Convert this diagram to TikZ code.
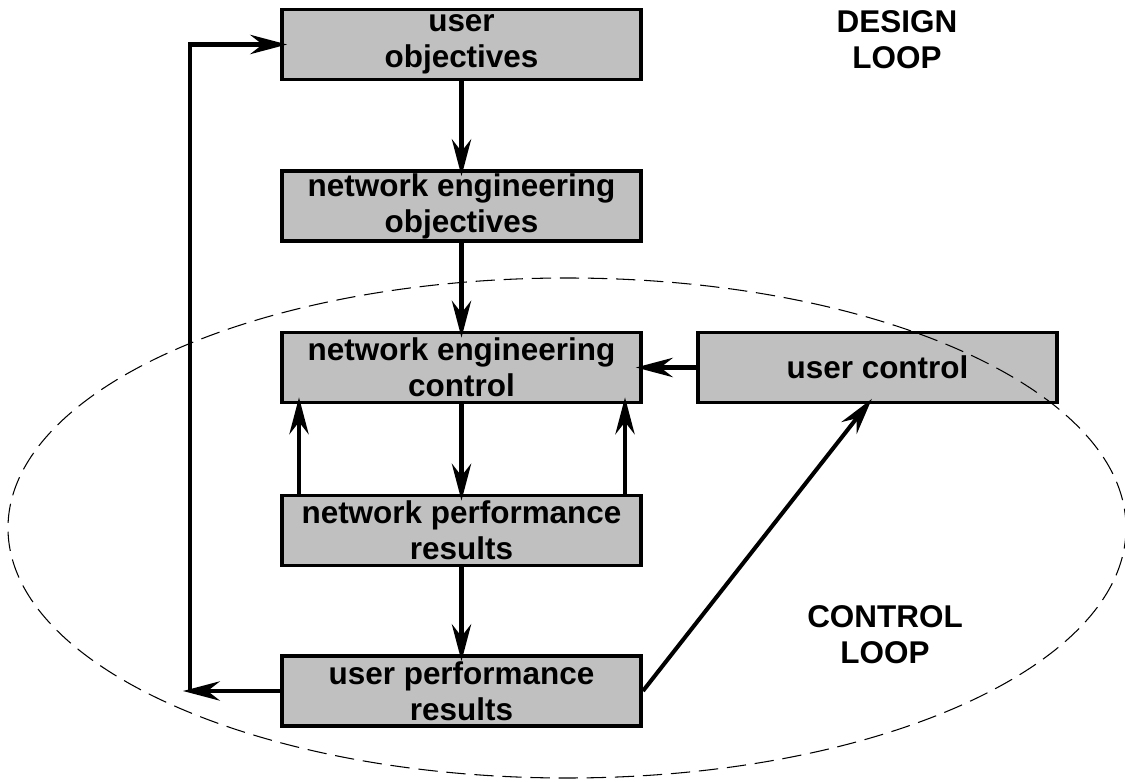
\documentclass[tikz,border=0pt]{standalone}
\usepackage{fontspec}
\setmainfont{Liberation Sans}
\usetikzlibrary{arrows.meta}
\definecolor{boxgray}{HTML}{C0C0C0}
\begin{document}
\begin{tikzpicture}[bx/.style={draw=black,fill=boxgray,line width=2.2pt,minimum width=7.18cm,minimum height=1.40cm,inner sep=0pt,align=center,font=\bfseries\fontsize{17.9}{20.5}\selectfont},
ar/.style={line width=2.3pt,-{Stealth[length=21pt,width=11pt,inset=7pt]},shorten >=-4pt},
lbl/.style={align=center,font=\bfseries\fontsize{17.9}{20.5}\selectfont}]
\useasboundingbox (0,0) rectangle (22.5,15.62);
\node[bx] (A) at (9.23,14.73) {user\\objectives};
\node[bx] (B) at (9.23,11.50) {network engineering\\objectives};
\node[bx] (C) at (9.23,8.27) {network engineering\\control};
\node[bx] (D) at (9.23,5.01) {network performance\\results};
\node[bx] (E) at (9.23,1.80) {user performance\\results};
\node[bx] (F) at (17.55,8.27) {user control};
\coordinate (R) at (3.8,1.80);
\draw[ar] (A) -- (B);
\draw[ar] (B) -- (C);
\draw[ar] (C) -- (D);
\draw[ar] (D) -- (E);
\draw[ar] ([xshift=-3.25cm]D.north) -- ([xshift=-3.25cm]C.south);
\draw[ar] ([xshift=3.27cm]D.north) -- ([xshift=3.27cm]C.south);
\draw[ar] (F) -- (C);
\draw[ar] (E.east) -- ([xshift=-0.2cm]F.south);
\draw[ar] (E) -- (R);
\draw[ar] (R) |- (A);
\node[lbl] (dl) at (17.94,14.82) {DESIGN\\LOOP};
\node[lbl] (cl) at (17.70,2.92) {CONTROL\\LOOP};
\draw[line width=0.6pt,dash pattern=on 11pt off 5pt] (11.34,5.06) ellipse [x radius=11.18,y radius=5.0];
\end{tikzpicture}
\end{document}
